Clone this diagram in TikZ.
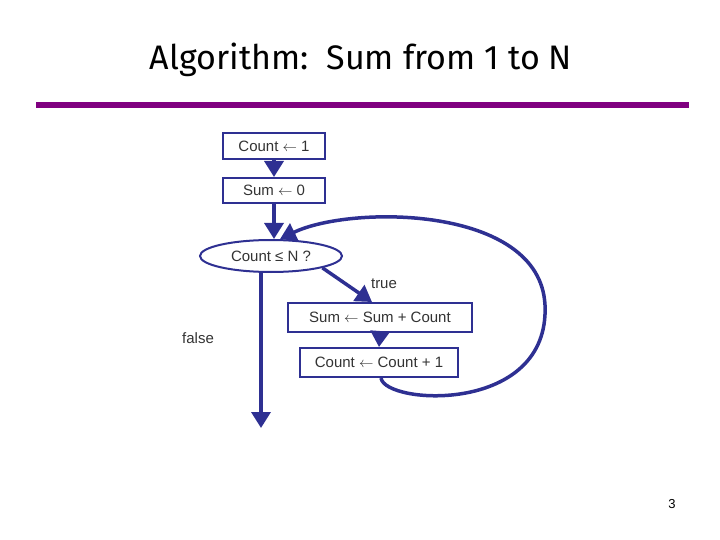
\documentclass[tikz,border=0pt]{standalone}
\usepackage{fontspec}
\setmainfont{Liberation Sans}
\newfontfamily\titlefont{Fira Sans}
\usetikzlibrary{arrows.meta,shapes.geometric}
\definecolor{navy}{HTML}{2E3092}
\definecolor{barpurple}{HTML}{800080}
\definecolor{txt}{HTML}{333333}
\tikzset{
  box/.style={draw=navy, line width=2pt, fill=white, inner sep=0pt, font=\fontsize{15}{18}\selectfont, text=txt},
  conn/.style={draw=navy, line width=3.5pt, -{Triangle[length=16pt,width=19pt]}},
  lbl/.style={font=\fontsize{15}{18}\selectfont, text=txt, inner sep=0pt}
}
\begin{document}
\begin{tikzpicture}[x=1pt,y=-1pt]
\useasboundingbox (0,0) rectangle (720,540);
\node[font=\titlefont\fontsize{34}{40}\selectfont, inner sep=0pt] (title) at (361,60) {Algorithm:\ \ Sum from 1 to N};
\fill[barpurple] (36,102) rectangle (689,108);
\node[box, minimum width=102pt, minimum height=26pt] (c1) at (274,146) {Count $\leftarrow$ 1};
\node[box, minimum width=102pt, minimum height=25pt] (s0) at (274,190.5) {Sum $\leftarrow$ 0};
\node[box, ellipse, minimum width=142pt, minimum height=32pt] (cond) at (271,256) {Count ≤ N ?};
\node[box, minimum width=184pt, minimum height=29pt] (sc) at (380,317.5) {Sum $\leftarrow$ Sum + Count};
\node[box, minimum width=158pt, minimum height=29pt] (ci) at (379,362.5) {Count $\leftarrow$ Count + 1};
\coordinate (fend) at (261,428);
\node[lbl] (ltrue) at (384,284) {true};
\node[lbl] (lfalse) at (198,338) {false};
\node[lbl, text=black, font=\fontsize{13}{15}\selectfont] (pg) at (672,504) {3};
\draw[conn] (c1.south) -- (s0.north);
\draw[conn] (s0.south) -- ([xshift=3pt]cond.north);
\draw[conn] (cond.-13) -- ([xshift=-8pt]sc.north);
\draw[conn] (sc.south) -- (ci.north);
\draw[conn] (fend |- cond.south) -- (fend);
\draw[conn] ([xshift=2pt]ci.south) .. controls (385,405) and (550,415) .. (545,305)
  .. controls (540,205) and (350,205) .. (cond.62);
\end{tikzpicture}
\end{document}
